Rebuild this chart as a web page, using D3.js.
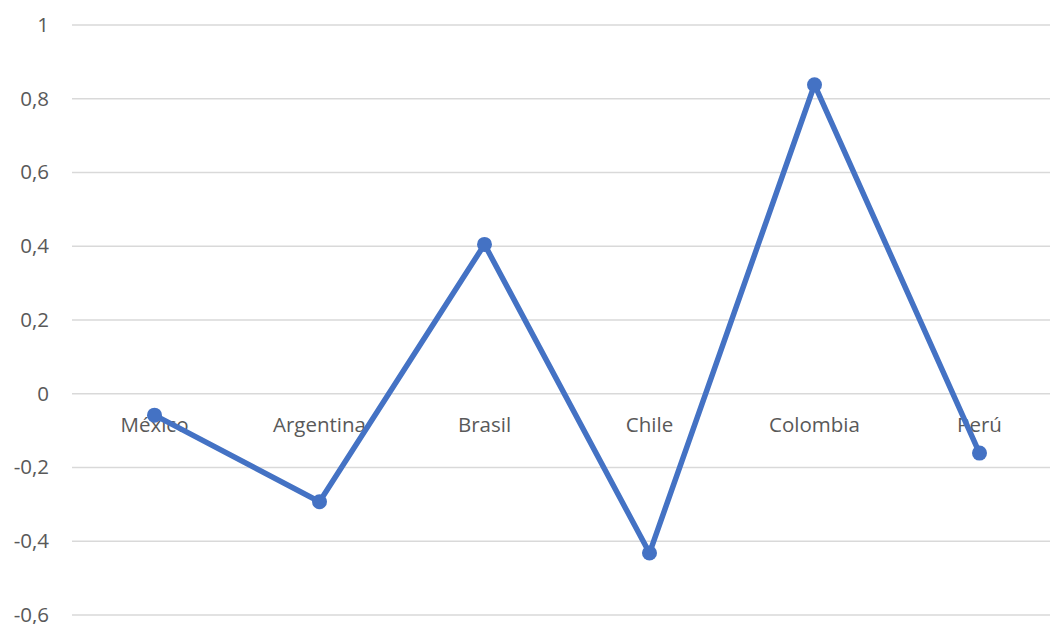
<!DOCTYPE html>
<html><head><meta charset="utf-8">
<script src="https://cdn.jsdelivr.net/npm/d3@7"></script>
<style>html,body{margin:0;padding:0;background:#fff;overflow:hidden}</style>
</head><body>
<svg id="chart" width="1050" height="624"></svg>
<script>
const categories = ["México", "Argentina", "Brasil", "Chile", "Colombia", "Perú"];
const values = [-0.058, -0.293, 0.405, -0.432, 0.838, -0.161];
const yTicks = [1, 0.8, 0.6, 0.4, 0.2, 0, -0.2, -0.4, -0.6];
const yTickLabels = ["1", "0,8", "0,6", "0,4", "0,2", "0", "-0,2", "-0,4", "-0,6"];

(function () {
const svg = d3.select("#chart");
const mLeft = 72, mRight = 1062, mTop = 25, mBottom = 615;
const x = d3.scaleBand().domain(categories).range([mLeft, mRight]);
const y = d3.scaleLinear().domain([-0.6, 1]).range([mBottom, mTop]);
const font = "'Open Sans', 'Liberation Sans', sans-serif";

// gridlines
svg.append("g").selectAll("line").data(yTicks).join("line")
  .attr("x1", mLeft).attr("x2", mRight)
  .attr("y1", d => y(d)).attr("y2", d => y(d))
  .attr("stroke", "#d9d9d9").attr("stroke-width", 1.5);

// y labels
svg.append("g").selectAll("text").data(yTicks).join("text")
  .attr("x", 49).attr("y", d => y(d)).attr("dy", "0.33em")
  .attr("text-anchor", "end").attr("fill", "#595959")
  .style("font-family", font).style("font-size", "20.5px")
  .text((d, i) => yTickLabels[i]);

// category labels
svg.append("g").selectAll("text").data(categories).join("text")
  .attr("x", d => x(d) + x.bandwidth() / 2).attr("y", y(0) + 38)
  .attr("text-anchor", "middle").attr("fill", "#595959")
  .style("font-family", font).style("font-size", "20.5px")
  .text(d => d);

const pts = categories.map((c, i) => [x(c) + x.bandwidth() / 2, y(values[i])]);
svg.append("path").datum(pts)
  .attr("d", d3.line())
  .attr("fill", "none").attr("stroke", "#4472C4")
  .attr("stroke-width", 5.5).attr("stroke-linejoin", "round").attr("stroke-linecap", "round");

svg.append("g").selectAll("circle").data(pts).join("circle")
  .attr("cx", d => d[0]).attr("cy", d => d[1]).attr("r", 7.5)
  .attr("fill", "#4472C4");
})();
</script>
</body></html>
